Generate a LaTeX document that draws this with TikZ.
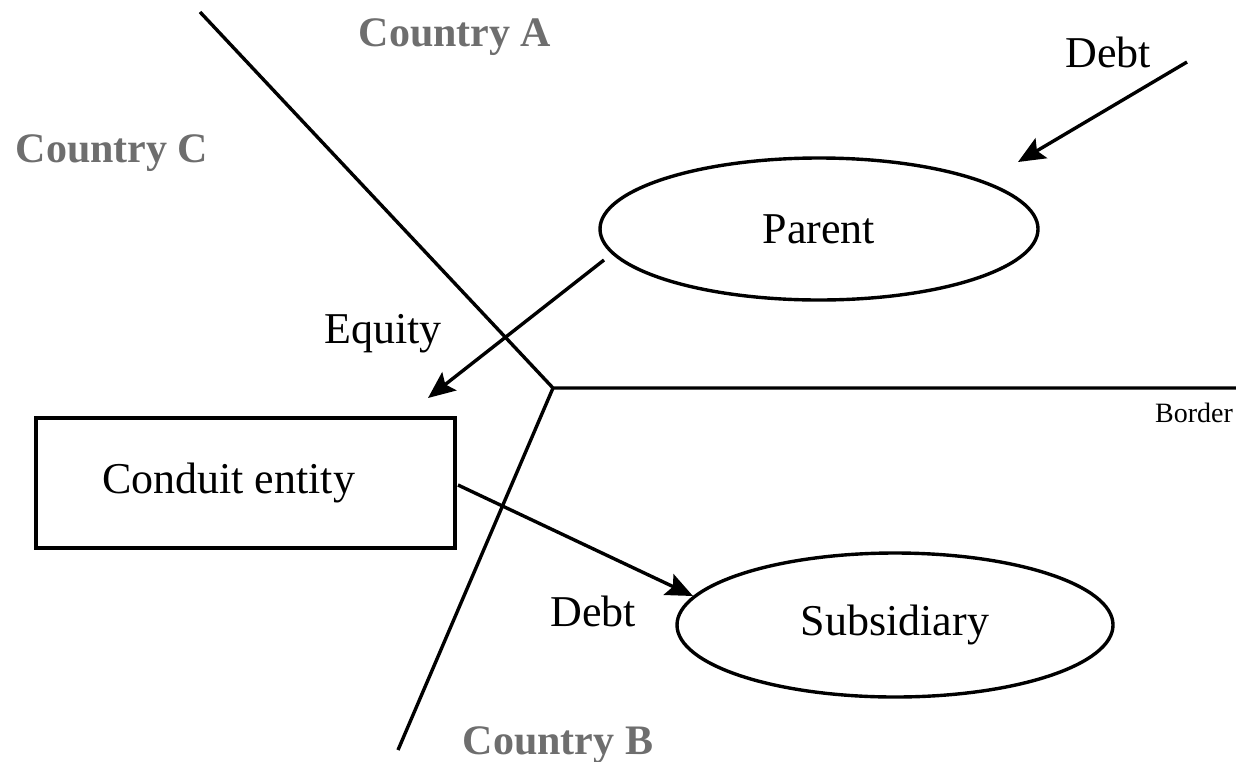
\documentclass[tikz,border=0pt]{standalone}
\usepackage{fontspec}
\setmainfont{Liberation Serif}
\usetikzlibrary{shapes.geometric,arrows.meta}
\definecolor{cgray}{HTML}{6E6E6E}
\begin{document}
\begin{tikzpicture}[x=1pt,y=-1pt,
  country/.style={font=\fontsize{42}{48}\selectfont\bfseries, text=cgray, anchor=base, inner sep=0pt},
  lbl/.style={font=\fontsize{44}{50}\selectfont, anchor=base, inner sep=0pt},
  ent/.style={draw, line width=3.4pt, font=\fontsize{44}{50}\selectfont, inner sep=0pt},
  borderline/.style={line width=3.4pt},
  flow/.style={line width=3.4pt, -{Stealth[length=27pt,width=23pt,inset=5pt]}}]
\useasboundingbox (0,0) rectangle (1236,761);
% borders
\coordinate (J) at (553,388);
\coordinate (bA) at (200,12);
\coordinate (bE) at (1236,388);
\coordinate (bB) at (398,750);
\draw[borderline] (bA) -- (J) -- (bE);
\draw[borderline] (J) -- (bB);
% entities
\node[ent, ellipse, minimum width=438pt, minimum height=142pt] (par) at (819,229) {Parent};
\node[ent, ellipse, minimum width=436pt, minimum height=144pt] (sub) at (895,625) {Subsidiary};
\node[ent, rectangle, minimum width=419pt, minimum height=130pt] (con) at (245.5,483) {Conduit entity\kern34pt};
% labels
\node[country] (ca) at (455,46) {Country A};
\node[country] (cc) at (112,162) {Country C};
\node[country] (cb) at (558,754) {Country B};
\node[lbl] (d1) at (1108,67) {Debt};
\node[lbl] (eq) at (383,343) {Equity};
\node[lbl] (d2) at (593,626) {Debt};
\node[font=\fontsize{28}{32}\selectfont, anchor=base, inner sep=0pt] (bo) at (1194,422) {Border};
% flows
\coordinate (d1s) at (1187,62);
\coordinate (d1e) at (1018,162);
\coordinate (eqs) at (604,260);
\coordinate (eqe) at (428,398);
\coordinate (d2s) at (458,485);
\coordinate (d2e) at (693,596);
\draw[flow] (d1s) -- (d1e);
\draw[flow] (eqs) -- (eqe);
\draw[flow] (d2s) -- (d2e);
\end{tikzpicture}
\end{document}
